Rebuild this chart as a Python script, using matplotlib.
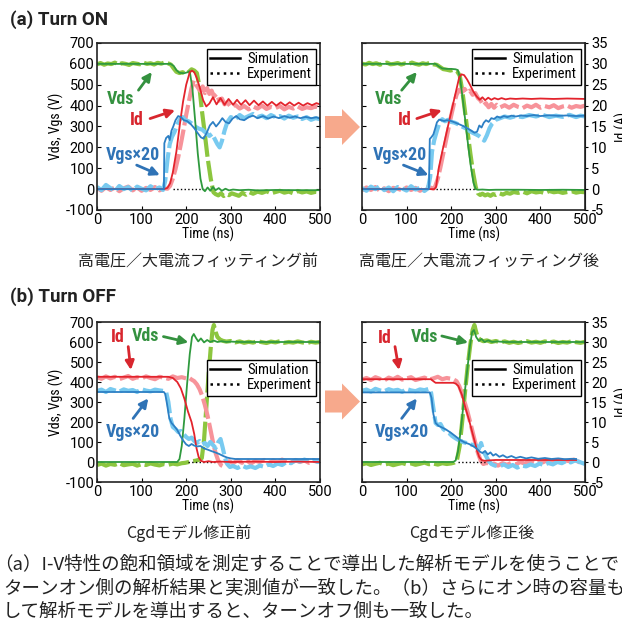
import matplotlib
matplotlib.use('Agg')
import numpy as np
import matplotlib.pyplot as plt
from matplotlib.lines import Line2D
from matplotlib.patches import FancyArrow

plt.rcParams['font.family'] = ['Roboto Condensed', 'Open Sans Condensed', 'DejaVu Sans']
plt.rcParams['font.stretch'] = 'condensed'
plt.rcParams['axes.unicode_minus'] = False
JP = ['Noto Sans CJK JP', 'DejaVu Sans']
TICKFONT = dict(fontfamily=['Roboto', 'DejaVu Sans'], fontstretch='normal', fontsize=10.5)

VOLTS_PER_AMP = 20   # right axis Id (A) = left axis / 20

######################### DATA ###########################################
# (a) turn on, before fitting
A1_VDS_SIM_T = [0,165,172,178,185,195,203,208,214,220,226,232,237,242,248,254,260,266,273,280,288,296,305,320,340,360,400,450,500]
A1_VDS_SIM = [600,600,590,570,557,555,560,565,480,330,170,50,0,-10,8,-8,10,-5,5,-8,2,-6,-2,-5,-3,-6,-4,-5,-5]
A1_VDS_EXP_T = list(range(0, 161, 8)) + [166,172,178,185,192,199,206,212,218,224,229,235,242,248,255,261,266] \
    + [272,278,284,290,296,302] + [310,318,326,334,342,350] + list(range(360, 501, 10))
A1_VDS_EXP = [598,604,596,602,599,606,597,603,600,595,604,601,598,606,600,603,597,605,601,607,602,
              596,578,562,556,560,553,562,574,568,556,500,380,260,150,50,-15,-24,
              -30,-20,-33,-24,-29,-20, -26,-32,-18,-27,-15,-22,
              -12,-18,-10,-20,-14,-8,-17,-12,-20,-9,-16,-11,-18,-13,-15]
A1_ID_SIM_T = [0,150,158,164,170,178,186,193,200,208,213,218,223,230,238,245,252,260,268,277,286,295,305,314,323,333,342,352,362,372,382,392,402,412,422,432,442,452,462,472,482,492,500]
A1_ID_SIM = [0,0,0.3,1.4,4,9,15.7,21,25,28,28.4,28,26.8,24.5,21.3,19.8,20.5,22,20.3,21.8,20.2,21.6,20.2,21.4,20.2,21.3,20.1,21.2,20.1,21.0,
             20.0,20.9,20.0,20.8,20.0,20.8,20.0,20.7,20.0,20.6,20.1,20.6,20.3]
A1_ID_EXP_T = list(range(0, 151, 10)) + [158,164,170,176,182,188,194,200,206,212,217,222,227,232,237,242,247,252,257,262,268,274,280,286,292] \
    + list(range(300, 501, 10))
A1_ID_EXP = [0.3,-0.4,0.5,-0.2,0.4,-0.5,0.2,0.6,-0.3,0.4,-0.4,0.3,-0.2,0.5,-0.3,0.2,
             0.1,0.8,2.5,4.8,7.6,10.8,14.2,17.8,21,24.2,26,25,24.2,23.5,24.6,23,24.2,22.8,23.6,22.2,22.8,21.2,21.7,20.3,20.8,
             19.7,20.2,19.3,19.9,19.1,19.8,19.3,20,19.2,19.7,19.4,19.9,19.1,19.7,19.3,19.8,19.2,19.6,19.4,19.8,19.4]
A1_VGS_SIM_T = [0,150,151,155,160,163,167,171,176,182,188,195,202,210,218,226,233,239,246,253,260,267,274,281,288,296,304,312,320,330,340,350,360,372,384,396,408,420,432,444,456,468,480,492,500]
A1_VGS_SIM = [0,0,220,245,255,235,280,300,330,350,345,330,326,312,292,268,248,242,270,305,322,300,318,340,322,315,338,350,335,330,
              345,352,340,350,338,348,340,350,342,348,340,346,340,344,338]
A1_VGS_EXP_T = list(range(0, 141, 10)) + [148,153,158,163,168,174,180,186,192,198,205,212,220,228,236,244,252,258,264,270,275,280,286,292,300] \
    + list(range(310, 501, 10))
A1_VGS_EXP = [10,-5,20,5,-10,15,0,10,-8,12,2,-6,14,0,8,-4,
              40,140,215,250,275,310,335,345,330,325,315,300,290,285,270,255,265,240,215,200,230,280,320,345,
              335,355,340,350,360,345,352,340,355,345,350,338,352,342,348,336,345,332,340,335]
A1_DOT_T = [170, 245]

# (a) turn on, after fitting
A2_VDS_SIM_T = [0,165,172,180,190,200,210,215,220,226,232,238,244,250,255,260,270,285,300,350,400,450,500]
A2_VDS_SIM = [600,600,588,578,576,576,574,570,530,430,320,210,110,30,0,-3,-2,-4,-3,-3,-4,-3,-4]
A2_VDS_EXP_T = list(range(0, 161, 8)) + [168,175,182,190,198,206,213,219,225,231,237,243,249,255,260,265] \
    + [270,276,282,288,294,300,308,316,324,332,340] + list(range(350, 501, 10))
A2_VDS_EXP = [601,597,605,599,603,596,602,606,598,600,604,597,602,599,606,600,596,603,599,605,598,
              595,585,575,572,568,572,565,545,470,370,270,170,80,10,-20,-28,
              -22,-30,-25,-32,-24,-28,-20,-26,-18,-22,-14,
              -18,-12,-20,-10,-16,-13,-19,-9,-15,-12,-18,-14,-10,-17,-13,-15]
A2_ID_SIM_T = [0,162,166,172,180,188,196,204,212,218,223,229,236,243,250,257,264,270,276,283,290,297,305,313,322,332,345,360,380,400,430,460,500]
A2_ID_SIM = [0,0,0.5,5,9,12.8,16.6,20.3,24,26.8,27.5,27.3,26.2,24.8,23.3,22.2,21.4,22.0,21.3,21.9,
             21.4,21.8,21.5,21.8,21.5,21.7,21.6,21.7,21.6,21.7,21.6,21.7,21.6]
A2_ID_EXP_T = list(range(0, 161, 10)) + [164,170,176,182,188,194,200,206,212,218,224,230,236,242,248,254,260,266,272,278,284,290,296,302] \
    + list(range(310, 501, 10))
A2_ID_EXP = [-0.3,0.4,-0.2,0.5,-0.4,0.2,-0.5,0.3,0.1,-0.3,0.4,-0.2,0.3,-0.4,0.2,0.5,0.1,
             0.6,2.5,5.3,8.4,11.5,14.6,17.6,20.4,22.6,23.8,23.2,24,23.1,23.6,22.6,23,21.8,21.2,20,20.6,19.6,20.4,19.5,20.2,
             19.6,20.1,19.5,20.2,19.7,19.4,20,19.6,20.2,19.5,19.9,19.6,20.1,19.4,19.8,20,19.5,19.9,19.7,20]
A2_VGS_SIM_T = [0,150,152,156,160,164,168,173,178,184,190,197,205,213,221,229,237,245,252,258,263,268,273,278,284,290,296,303,310,318,
                326,335,345,357,370,385,400,420,440,460,480,500]
A2_VGS_SIM = [0,0,240,250,262,290,320,333,330,326,330,328,322,315,308,300,290,280,270,275,305,295,318,330,322,340,336,348,342,350,
              345,352,348,353,350,355,350,354,351,353,350,352]
A2_VGS_EXP_T = list(range(0, 141, 10)) + [148] + [153,157,162,168,174,180,186,193,200,208,216,224,232,240,248,256,262,268,274,280,
                                                  286,292,300,310,320,332,345,360,375,390,405,420,435,450,465,480,490,500]
A2_VGS_EXP = [5,-8,12,0,15,-5,8,-10,10,3,-7,14,-2,6,-9,4,
              60,180,235,280,320,335,325,332,322,318,310,300,292,280,270,262,255,245,232,258,
              292,315,332,340,348,342,350,345,355,348,356,345,352,346,356,345,352,348]
A2_DOT_T = [165, 255]

# (b) turn off, before Cgd fix
B1_VDS_SIM_T = [0,180,185,190,196,202,208,213,217,222,227,233,240,247,254,262,270,280,290,300,320,350,400,450,500]
B1_VDS_SIM = [0,0,15,80,220,390,540,625,640,620,603,618,598,610,600,607,600,604,600,602,600,600,600,600,600]
B1_VDS_EXP_T = list(range(0, 191, 10)) + [198,206,214,222,230,235,240,245,250,255,259,262,266,270,276,282,290,300] \
    + list(range(310, 501, 10))
B1_VDS_EXP = [-15,-8,-18,-10,-14,-6,-16,-12,-9,-18,-11,-15,-7,-13,-17,-10,-14,-8,-12,-6,
              -4,0,4,7,12,20,110,270,430,570,660,685,650,625,612,606,602,605,
              598,603,596,601,597,604,599,595,602,598,604,596,600,597,603,598,594,601,597,600]
B1_ID_SIM_T = [0,160,170,180,188,196,204,212,218,223,228,233,240,250,260,275,300,350,400,450,500]
B1_ID_SIM = [21.3,21.3,21,20,18.4,15.8,12.6,10,7,3.5,1.2,0.3,0,0.2,0,0.1,0,0.1,0,0.1,0]
B1_ID_EXP_T = list(range(0, 201, 10)) + [206,212,218,224,230,236,242,248,254,260,266,272,278,284,290,296] \
    + list(range(305, 496, 10)) + [500]
B1_ID_EXP = [21.2,20.8,21.4,20.9,21.3,20.7,21.1,21.5,20.8,21.2,20.9,21.4,21,20.7,21.3,21.1,20.8,21.4,21,21.2,20.9,
             21.1,20.6,20.2,19.4,18.2,16.5,14.2,11.5,8.3,5,2.2,0.3,-0.8,-1.1,-0.4,0.2,
             -0.3,0.4,-0.2,0.5,-0.4,0.3,0,0.5,-0.3,0.4,-0.1,0.6,0.1,-0.2,0.5,0,0.4,-0.2,0.3,0.1, 0.2]
B1_VGS_SIM_T = [0,150,153,157,162,167,173,180,187,194,200,206,212,218,225,232,240,248,256,265,274,283,292,300,310,330,360,400,450,500]
B1_VGS_SIM = [350,350,340,290,220,195,180,160,130,105,88,80,90,82,78,80,68,62,55,48,40,30,22,18,15,15,15,15,15,15]
B1_VGS_EXP_T = list(range(0, 151, 10)) + [155,160,165,170,176,182,188,194,200,206,212,218,224,230,236,242,248,254,260,266,
                                          272,277,282,287,292,298] + list(range(305, 496, 10)) + [500]
B1_VGS_EXP = [355,362,350,365,358,352,363,356,360,350,364,357,353,362,358,355,
              350,300,215,175,165,150,155,140,125,115,122,105,95,105,88,95,80,100,85,70,100,115,70,20,-10,-25,
              -20,-30,-18,-28,-22,-30,-18,-24,-12,-20,-8,-15,0,-6,8,2,12,5,10,0, 5]
B1_DOT_T = [205, 265]

# (b) turn off, after Cgd fix
B2_VDS_SIM_T = [0,205,210,215,222,229,236,242,247,251,256,262,268,275,283,292,302,320,350,400,450,500]
B2_VDS_SIM = [0,0,8,50,170,320,460,580,650,660,625,605,615,600,608,600,603,600,600,600,600,600]
B2_VDS_EXP_T = list(range(0, 201, 10)) + [207,213,219,225,231,237,243,248,252,256,260,266,272,280,290,300] \
    + list(range(310, 501, 10))
B2_VDS_EXP = [-12,-6,-15,-9,-4,-13,-8,-16,-10,-5,-12,-7,-14,-9,-3,-11,-8,-13,-6,-10,-7,
              -3,10,80,210,350,480,590,660,685,650,622,610,604,608,600,605,
              598,603,596,601,595,600,604,597,601,596,603,598,602,595,600,597,604,599,596,601]
B2_ID_SIM_T = [0,155,160,165,205,210,216,224,232,240,247,253,258,263,268,275,285,300,350,400,450,480]
B2_ID_SIM = [20.7,20.7,20.2,19.8,19.8,19.6,19,16.8,13.5,10.5,7.5,5,2.8,1.2,0.5,0.3,0.4,0.5,0.5,0.5,0.5,0.5]
B2_ID_EXP_T = list(range(0, 201, 10)) + [206,212,218,224,230,236,242,248,254,260,266,272,280,288,296] \
    + list(range(305, 496, 10)) + [500]
B2_ID_EXP = [20.6,21,20.5,21.2,20.8,20.4,21.1,20.7,21.3,20.6,20.9,21.2,20.5,20.8,21.1,20.6,20.9,21.3,20.7,21,20.8,
             20.6,20.2,19,17.2,15,12.8,10.2,7.5,4.8,2.2,0.4,-0.5,-0.2,-0.8,-0.4,
             -0.9,-0.3,-0.7,-0.2,-0.6,0,-0.4,0.2,-0.3,0.3,-0.1,0.4,0.1,0.5,0,0.4,0.2,0.6,0.1,-0.5, -0.3]
B2_VGS_SIM_T = [0,152,156,160,165,172,180,190,200,210,220,230,240,250,258,264,270,276,282,288,294,300,308,316,325,335,345,355,368,380,
                395,410,425,440,455,470,480]
B2_VGS_SIM = [348,348,320,240,195,180,172,160,145,128,110,98,90,78,65,52,45,55,38,48,32,40,26,34,22,30,20,26,18,23,
              16,20,15,18,14,16,15]
B2_VGS_EXP_T = list(range(0, 151, 10)) + [155,160,165,170,176,182,188,195,202,210,218,226,234,242,250,256,262,267,272,278,284,290,298] \
    + list(range(308, 489, 10)) + [500]
B2_VGS_EXP = [356,362,352,366,358,354,364,357,361,351,365,358,354,363,359,366,
              345,270,195,185,190,165,155,145,130,118,108,100,95,88,85,82,65,95,55,30,5,-10,-18,
              -22,-12,-25,-15,-28,-18,-22,-12,-20,-8,-15,-5,-12,0,-6,5,-2,8,0, -10]
B2_DOT_T = [215, 275]

X_TICKS = [0, 100, 200, 300, 400, 500]
V_TICKS = [-100, 0, 100, 200, 300, 400, 500, 600, 700]
A_TICKS = [-5, 0, 5, 10, 15, 20, 25, 30, 35]

TITLES = ['(a) Turn ON', '(b) Turn OFF']
SUBCAPTIONS = ['高電圧／大電流フィッティング前', '高電圧／大電流フィッティング後', 'Cgdモデル修正前', 'Cgdモデル修正後']
CAPTION = ['（a）I-V特性の飽和領域を測定することで導出した解析モデルを使うことで',
           'ターンオン側の解析結果と実測値が一致した。（b）さらにオン時の容量も測定',
           'して解析モデルを導出すると、ターンオフ側も一致した。']

######################### STYLE ##########################################
C_VDS_SIM, C_VDS_EXP = '#2f9a3e', '#8cc63f'
C_ID_SIM, C_ID_EXP = '#e3232c', '#f7939a'
C_VGS_SIM, C_VGS_EXP = '#2c7fc4', '#78caf0'
C_VDS_TXT, C_ID_TXT, C_VGS_TXT = '#34913f', '#d8262e', '#2f73b6'
EXP_DASH = (0, (5, 1))


def draw_panel(ax, vds, ids, vgs, dot_t, right, legend_y, notes):
    # experiment (thick, light) first, simulation on top
    ax.plot(vds[2], vds[3], color=C_VDS_EXP, lw=3, ls=EXP_DASH)
    ax.plot(ids[2], np.array(ids[3]) * VOLTS_PER_AMP, color=C_ID_EXP, lw=3, ls=EXP_DASH)
    ax.plot(vgs[2], vgs[3], color=C_VGS_EXP, lw=3, ls=EXP_DASH)
    ax.plot(dot_t, [0, 0], color='k', lw=1, ls=':')
    ax.plot(vds[0], vds[1], color=C_VDS_SIM, lw=1.3)
    ax.plot(ids[0], np.array(ids[1]) * VOLTS_PER_AMP, color=C_ID_SIM, lw=1.3)
    ax.plot(vgs[0], vgs[1], color=C_VGS_SIM, lw=1.3)

    ax.set_xlim(0, 500)
    ax.set_ylim(-100, 700)
    ax.set_xticks(X_TICKS, [str(v) for v in X_TICKS], **TICKFONT)
    ax.set_yticks(V_TICKS, [str(v) for v in V_TICKS], **TICKFONT)
    ax.tick_params(direction='in', length=3, pad=2, left=True, right=not right)
    ax.set_xlabel('Time (ns)', fontsize=10, labelpad=0)
    for s in ax.spines.values():
        s.set_linewidth(1.2)
        s.set_color('#222222')
    if right:
        ax.tick_params(labelleft=False)
        sec = ax.secondary_yaxis('right', functions=(lambda v: v / VOLTS_PER_AMP, lambda a: a * VOLTS_PER_AMP))
        sec.set_yticks(A_TICKS, [str(v) for v in A_TICKS], **TICKFONT)
        sec.tick_params(direction='out', length=2.5, pad=2)
        sec.set_ylabel('Id (A)', fontsize=10, labelpad=5)
    else:
        ax.set_ylabel('Vds, Vgs (V)', fontsize=10, labelpad=1)

    handles = [Line2D([], [], color='k', lw=1.8), Line2D([], [], color='k', lw=1.8, ls=':')]
    leg = ax.legend(handles, ['Simulation', 'Experiment'], loc='upper right', bbox_to_anchor=(0.98, legend_y),
                    fontsize=10.5, fancybox=False, framealpha=1, edgecolor='k', borderpad=0.25,
                    handlelength=2.0, handletextpad=0.5, labelspacing=0.05, borderaxespad=0)
    leg.get_frame().set_linewidth(1)

    for text, color, pos, tail, head in notes:
        ax.text(pos[0], pos[1], text, color=color, fontsize=13, fontweight='bold', ha='center', va='center')
        ax.annotate('', xy=head, xytext=tail,
                    arrowprops=dict(arrowstyle='-|>', color=color, lw=2, mutation_scale=13, shrinkA=0, shrinkB=0))


fig = plt.figure(figsize=(6.22, 6.34), dpi=100)
W, H = 622, 634


def add_axes(left, top, right, bottom):
    return fig.add_axes([left / W, 1 - bottom / H, (right - left) / W, (bottom - top) / H])


ax1 = add_axes(97, 43, 320, 210)
ax2 = add_axes(362, 43, 585, 210)
ax3 = add_axes(97, 322, 320, 482)
ax4 = add_axes(362, 322, 585, 482)

draw_panel(ax1, (A1_VDS_SIM_T, A1_VDS_SIM, A1_VDS_EXP_T, A1_VDS_EXP),
           (A1_ID_SIM_T, A1_ID_SIM, A1_ID_EXP_T, A1_ID_EXP),
           (A1_VGS_SIM_T, A1_VGS_SIM, A1_VGS_EXP_T, A1_VGS_EXP), A1_DOT_T, False, 0.965,
           [('Vds', C_VDS_TXT, (52, 434), (93, 474), (123, 561)),
            ('Id', C_ID_TXT, (89, 330), (119, 338), (175, 378)),
            ('Vgs×20', C_VGS_TXT, (81, 163), (89, 115), (141, 67))])
draw_panel(ax2, (A2_VDS_SIM_T, A2_VDS_SIM, A2_VDS_EXP_T, A2_VDS_EXP),
           (A2_ID_SIM_T, A2_ID_SIM, A2_ID_EXP_T, A2_ID_EXP),
           (A2_VGS_SIM_T, A2_VGS_SIM, A2_VGS_EXP_T, A2_VGS_EXP), A2_DOT_T, True, 0.965,
           [('Vds', C_VDS_TXT, (59, 434), (89, 474), (123, 561)),
            ('Id', C_ID_TXT, (96, 330), (123, 338), (179, 378)),
            ('Vgs×20', C_VGS_TXT, (85, 163), (93, 115), (149, 67))])
draw_panel(ax3, (B1_VDS_SIM_T, B1_VDS_SIM, B1_VDS_EXP_T, B1_VDS_EXP),
           (B1_ID_SIM_T, B1_ID_SIM, B1_ID_EXP_T, B1_ID_EXP),
           (B1_VGS_SIM_T, B1_VGS_SIM, B1_VGS_EXP_T, B1_VGS_EXP), B1_DOT_T, False, 0.765,
           [('Id', C_ID_TXT, (46, 623), (70, 577), (76, 460)),
            ('Vds', C_VDS_TXT, (108, 630), (149, 627), (205, 598)),
            ('Vgs×20', C_VGS_TXT, (81, 152), (81, 218), (115, 318))])
draw_panel(ax4, (B2_VDS_SIM_T, B2_VDS_SIM, B2_VDS_EXP_T, B2_VDS_EXP),
           (B2_ID_SIM_T, B2_ID_SIM, B2_ID_EXP_T, B2_ID_EXP),
           (B2_VGS_SIM_T, B2_VGS_SIM, B2_VGS_EXP_T, B2_VGS_EXP), B2_DOT_T, True, 0.765,
           [('Id', C_ID_TXT, (52, 618), (74, 577), (83, 460)),
            ('Vds', C_VDS_TXT, (141, 627), (179, 630), (238, 597)),
            ('Vgs×20', C_VGS_TXT, (89, 152), (89, 218), (123, 318))])

# block arrows between the panels
for yc in (127, 401.5):
    fig.patches.append(FancyArrow(325 / W, 1 - yc / H, 35 / W, 0, width=22 / H, head_width=36 / H,
                                  head_length=18 / W, length_includes_head=True, transform=fig.transFigure,
                                  color='#f7a98c', lw=0))

for y, s in zip([20, 297], TITLES):
    fig.text(10 / W, 1 - y / H, s, fontsize=13.5, fontweight='bold', va='center',
             family=['Roboto', 'DejaVu Sans'], fontstretch='normal', color='#222222')
for (x, y), s in zip([(198, 262), (479, 262), (189, 533), (472, 533)], SUBCAPTIONS):
    fig.text(x / W, 1 - y / H, s, fontsize=11.5, ha='center', va='center', family=JP, color='#222222')
# first line starts with a full-width bracket, so shift it left to line up the ink
for x, y, s in zip([-6, 3, 3], [564, 589, 612], CAPTION):
    fig.text(x / W, 1 - y / H, s, fontsize=13.3, va='center', family=JP, color='#222222')

fig.savefig('out.png', dpi=100)
